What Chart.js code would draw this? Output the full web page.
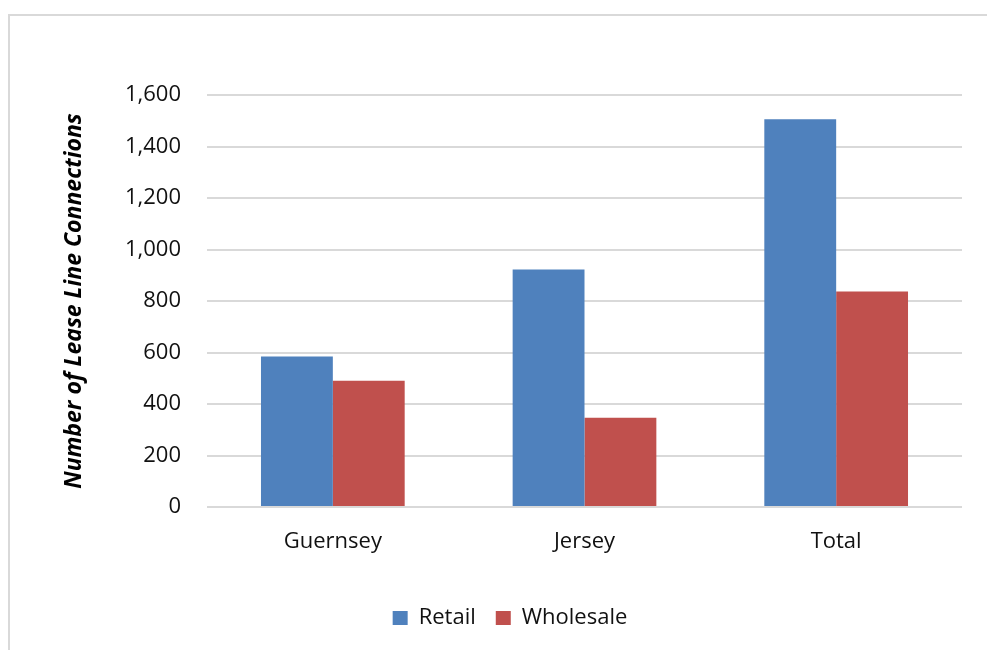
<!DOCTYPE html>
<html>
<head>
<meta charset="utf-8">
<script src="https://cdn.jsdelivr.net/npm/chart.js@4/dist/chart.umd.min.js"></script>
<style>
  body { margin: 0; background: #fff; overflow: hidden; }
  #frame { position: absolute; left: 8px; top: 14px; width: 1000px; height: 700px;
           border-left: 2px solid #d9d9d9; border-top: 2px solid #d9d9d9; }
  #wrap { position: absolute; left: 0; top: 0; width: 987px; height: 650px; }
</style>
</head>
<body>
<div id="frame"></div>
<div id="wrap"><canvas id="chart"></canvas></div>
<script>
const categories = ["Guernsey", "Jersey", "Total"];
const retail = [584, 922, 1506];
const wholesale = [490, 347, 837];
const yTicks = [0, 200, 400, 600, 800, 1000, 1200, 1400, 1600];

const font = "'Open Sans', sans-serif";

// nudge the legend right so it sits centred on the frame like the original
const legendShift = {
  id: "legendShift",
  beforeDraw(chart) {
    const lg = chart.legend;
    if (lg && !lg._shifted) {
      lg.left += 29;
      lg.right += 29;
      lg._shifted = true;
    }
  }
};

new Chart(document.getElementById("chart"), {
  type: "bar",
  data: {
    labels: categories,
    datasets: [
      { label: "Retail", data: retail, backgroundColor: "#4F81BD" },
      { label: "Wholesale", data: wholesale, backgroundColor: "#C0504D" }
    ]
  },
  plugins: [legendShift],
  options: {
    responsive: true,
    maintainAspectRatio: false,
    animation: false,
    datasets: { bar: { categoryPercentage: 0.571, barPercentage: 1 } },
    layout: { padding: { top: 95, right: 25, left: 0, bottom: 11 } },
    plugins: {
      tooltip: { enabled: false },
      legend: {
        position: "bottom",
        labels: {
          font: { family: font, size: 22 },
          color: "#111",
          boxWidth: 15,
          boxHeight: 14,
          padding: 20
        }
      }
    },
    scales: {
      x: {
        grid: { display: false, drawTicks: false },
        border: { display: false },
        ticks: { font: { family: font, size: 22 }, color: "#111", padding: 22 },
        afterFit: s => { s.height = 80; }
      },
      y: {
        min: 0,
        max: 1600,
        afterBuildTicks: s => { s.ticks = yTicks.map(v => ({ value: v })); },
        grid: { color: "#d9d9d9", lineWidth: 2, drawTicks: false },
        border: { display: false },
        ticks: {
          font: { family: font, size: 22 },
          color: "#111",
          padding: 26,
          callback: v => v.toLocaleString("en-US")
        },
        title: {
          display: true,
          text: "Number of Lease Line Connections",
          font: { family: font, size: 23, weight: "bold", style: "italic" },
          color: "#000",
          padding: { top: 61, bottom: 0 }
        },
        afterFit: s => { s.width = 207; }
      }
    }
  }
});
</script>
</body>
</html>
